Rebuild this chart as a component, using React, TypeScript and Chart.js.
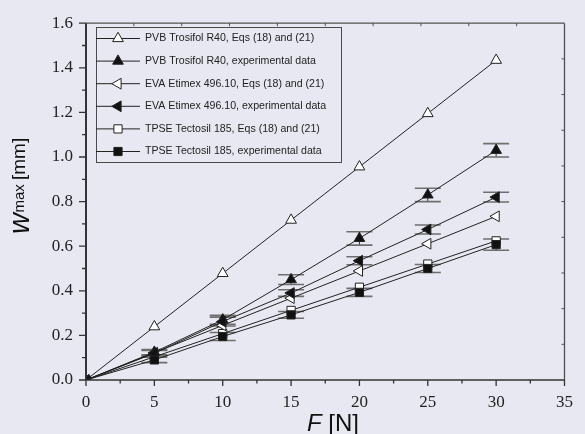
import React, { useEffect, useRef } from 'react';
import { Chart, registerables } from 'chart.js';

Chart.register(...registerables);

// ---- data ----
const forces = [0, 5, 10, 15, 20, 25, 30];
const pvbModel = [0, 0.239, 0.478, 0.717, 0.956, 1.195, 1.434];
const pvbExp = [0, 0.125, 0.27, 0.45, 0.635, 0.83, 1.03];
const pvbErr = [0, 0.012, 0.02, 0.022, 0.03, 0.03, 0.03];
const evaModel = [0, 0.122, 0.245, 0.367, 0.489, 0.611, 0.734];
const evaExp = [0, 0.12, 0.262, 0.39, 0.535, 0.675, 0.82];
const evaErr = [0, 0.012, 0.02, 0.015, 0.018, 0.02, 0.022];
const tpseModel = [0, 0.104, 0.208, 0.312, 0.416, 0.52, 0.624];
const tpseExp = [0, 0.09, 0.195, 0.292, 0.393, 0.5, 0.607];
const tpseErr = [0, 0.012, 0.018, 0.015, 0.018, 0.018, 0.025];

const seriesLabels = [
  'PVB Trosifol R40, Eqs (18) and (21)',
  'PVB Trosifol R40, experimental data',
  'EVA Etimex 496.10, Eqs (18) and (21)',
  'EVA Etimex 496.10, experimental data',
  'TPSE Tectosil 185, Eqs (18) and (21)',
  'TPSE Tectosil 185, experimental data',
];

const xMin = 0;
const xMax = 35;
const xStep = 5;
const yMin = 0;
const yMax = 1.6;
const yStep = 0.2;

const BG = '#e8e8f2';
const INK = '#222222';
const SANS = '"Liberation Sans", Arial, Helvetica, sans-serif';
const SERIF = '"Liberation Serif", "Times New Roman", Times, serif';

const toPoints = (ys: number[]) => forces.map((x, i) => ({ x, y: ys[i] }));

type Marker = { style: 'triangle' | 'rect'; rot: number; fill: string; radius: number };

const markers: Marker[] = [
  { style: 'triangle', rot: 0, fill: '#ffffff', radius: 6.2 },
  { style: 'triangle', rot: 0, fill: '#111111', radius: 6.2 },
  { style: 'triangle', rot: -90, fill: '#ffffff', radius: 6.2 },
  { style: 'triangle', rot: -90, fill: '#111111', radius: 6.2 },
  { style: 'rect', rot: 0, fill: '#ffffff', radius: 5.8 },
  { style: 'rect', rot: 0, fill: '#111111', radius: 5.8 },
];

const seriesValues = [pvbModel, pvbExp, evaModel, evaExp, tpseModel, tpseExp];
const seriesErrors: (number[] | null)[] = [null, pvbErr, null, evaErr, null, tpseErr];
const seriesOrder = [3, 2, 3, 1, 3, 0];

function drawMarker(ctx: CanvasRenderingContext2D, m: Marker, x: number, y: number) {
  ctx.save();
  ctx.beginPath();
  if (m.style === 'triangle') {
    let rad = (m.rot * Math.PI) / 180;
    const r = m.radius;
    ctx.moveTo(x + Math.sin(rad) * r, y - Math.cos(rad) * r);
    rad += (2 * Math.PI) / 3;
    ctx.lineTo(x + Math.sin(rad) * r, y - Math.cos(rad) * r);
    rad += (2 * Math.PI) / 3;
    ctx.lineTo(x + Math.sin(rad) * r, y - Math.cos(rad) * r);
    ctx.closePath();
  } else {
    const s = m.radius / Math.SQRT2;
    ctx.rect(x - s, y - s, 2 * s, 2 * s);
  }
  ctx.fillStyle = m.fill;
  ctx.fill();
  ctx.lineWidth = 1;
  ctx.strokeStyle = INK;
  ctx.stroke();
  ctx.restore();
}

const bgPlugin = {
  id: 'bg',
  beforeDraw(chart: any) {
    const ctx = chart.ctx;
    ctx.save();
    ctx.fillStyle = BG;
    ctx.fillRect(0, 0, chart.width, chart.height);
    ctx.restore();
  },
};

const errorBarPlugin = {
  id: 'errbars',
  beforeDatasetsDraw(chart: any) {
    const ctx = chart.ctx;
    const ys = chart.scales.y;
    chart.data.datasets.forEach((ds: any, i: number) => {
      const errs: number[] | undefined = ds.errors;
      if (!errs) return;
      const meta = chart.getDatasetMeta(i);
      meta.data.forEach((pt: any, j: number) => {
        const e = errs[j];
        if (!e) return;
        const v = ds.data[j].y;
        const top = ys.getPixelForValue(v + e);
        const bot = ys.getPixelForValue(v - e);
        const x = pt.x;
        ctx.save();
        ctx.strokeStyle = '#333';
        ctx.lineWidth = 1;
        ctx.beginPath();
        ctx.moveTo(x, top);
        ctx.lineTo(x, bot);
        ctx.stroke();
        ctx.strokeStyle = '#6e6e6e';
        ctx.lineWidth = 1.6;
        ctx.beginPath();
        ctx.moveTo(x - 13, top);
        ctx.lineTo(x + 13, top);
        ctx.moveTo(x - 13, bot);
        ctx.lineTo(x + 13, bot);
        ctx.stroke();
        ctx.restore();
      });
    });
  },
};

const framePlugin = {
  id: 'frame',
  afterDatasetsDraw(chart: any) {
    const ctx = chart.ctx;
    const { left, right, top, bottom } = chart.chartArea;
    const xs = chart.scales.x;
    const ys = chart.scales.y;
    ctx.save();
    // top and right
    ctx.strokeStyle = '#505050';
    ctx.lineWidth = 1.3;
    ctx.beginPath();
    ctx.moveTo(left, top);
    ctx.lineTo(right, top);
    ctx.moveTo(right, top);
    ctx.lineTo(right, bottom);
    ctx.stroke();
    // top / right inward ticks (10 divisions)
    ctx.lineWidth = 1;
    ctx.beginPath();
    for (let k = 1; k < 10; k++) {
      const px = left + ((right - left) * k) / 10;
      ctx.moveTo(px, top);
      ctx.lineTo(px, top + 3);
      const py = top + ((bottom - top) * k) / 10;
      ctx.moveTo(right, py);
      ctx.lineTo(right - 3, py);
    }
    ctx.stroke();
    // bottom and left axes
    ctx.strokeStyle = '#333';
    ctx.lineWidth = 1.6;
    ctx.beginPath();
    ctx.moveTo(left, bottom);
    ctx.lineTo(right, bottom);
    ctx.stroke();
    ctx.lineWidth = 2;
    ctx.beginPath();
    ctx.moveTo(left, top);
    ctx.lineTo(left, bottom);
    ctx.stroke();
    // bottom ticks
    ctx.lineWidth = 1.3;
    ctx.beginPath();
    for (let v = xMin; v <= xMax + 1e-9; v += xStep / 2) {
      const px = xs.getPixelForValue(v);
      const major = Math.abs(v / xStep - Math.round(v / xStep)) < 1e-6;
      ctx.moveTo(px, bottom);
      ctx.lineTo(px, bottom + (major ? 6 : 3.5));
    }
    for (let v = yMin; v <= yMax + 1e-9; v += yStep / 2) {
      const py = ys.getPixelForValue(v);
      const major = Math.abs(v / yStep - Math.round(v / yStep)) < 1e-6;
      ctx.moveTo(left, py);
      ctx.lineTo(left - (major ? 7 : 4), py);
    }
    ctx.stroke();
    ctx.restore();
  },
};

const titlePlugin = {
  id: 'titles',
  afterDraw(chart: any) {
    const ctx = chart.ctx;
    ctx.save();
    ctx.fillStyle = '#111';
    ctx.textBaseline = 'alphabetic';
    ctx.textAlign = 'left';
    // y title: w_max [mm]
    ctx.translate(29, 234);
    ctx.rotate(-Math.PI / 2);
    ctx.font = `italic 29px ${SANS}`;
    ctx.fillText('w', 0, 0);
    let cx = ctx.measureText('w').width + 0.5;
    ctx.font = `15px ${SANS}`;
    ctx.fillText('max', cx, -5);
    cx += ctx.measureText('max ').width;
    ctx.font = `19px ${SANS}`;
    ctx.fillText('[mm]', cx, -4);
    ctx.restore();

    ctx.save();
    ctx.fillStyle = '#111';
    ctx.textBaseline = 'alphabetic';
    ctx.textAlign = 'left';
    ctx.font = `italic 24px ${SANS}`;
    ctx.fillText('F', 307, 431);
    const fw = ctx.measureText('F ').width;
    ctx.font = `24px ${SANS}`;
    ctx.fillText('[N]', 307 + fw, 431);
    ctx.restore();
  },
};

const legendPlugin = {
  id: 'boxlegend',
  afterDraw(chart: any) {
    const ctx = chart.ctx;
    const bx = 96;
    const by = 27;
    const bw = 245;
    const bh = 135;
    ctx.save();
    ctx.strokeStyle = '#4a4a4a';
    ctx.lineWidth = 1;
    ctx.strokeRect(bx + 0.5, by + 0.5, bw, bh);
    ctx.font = `10.6px ${SANS}`;
    ctx.textBaseline = 'middle';
    ctx.fillStyle = INK;
    chart.data.datasets.forEach((ds: any, i: number) => {
      const y = by + 11.5 + i * 22.6;
      ctx.strokeStyle = INK;
      ctx.lineWidth = 1;
      ctx.beginPath();
      ctx.moveTo(bx, y);
      ctx.lineTo(bx + 44, y);
      ctx.stroke();
      drawMarker(ctx, markers[i], bx + 22, y);
      ctx.fillStyle = INK;
      ctx.fillText(ds.label, bx + 49, y);
    });
    ctx.restore();
  },
};

export default function App() {
  const ref = useRef<HTMLCanvasElement | null>(null);

  useEffect(() => {
    document.body.style.margin = '0';
    document.body.style.background = BG;
    const canvas = ref.current;
    if (!canvas) return;

    const datasets = seriesLabels.map((label, i) => ({
      label,
      data: toPoints(seriesValues[i]),
      errors: seriesErrors[i] || undefined,
      order: seriesOrder[i],
      showLine: true,
      borderColor: INK,
      borderWidth: 1,
      pointStyle: markers[i].style,
      pointRotation: markers[i].rot,
      pointRadius: markers[i].radius,
      pointBackgroundColor: markers[i].fill,
      pointBorderColor: INK,
      pointBorderWidth: 1,
      pointHoverRadius: markers[i].radius,
    }));

    const chart = new Chart(canvas, {
      type: 'scatter',
      data: { datasets } as any,
      options: {
        animation: false,
        responsive: true,
        maintainAspectRatio: false,
        layout: { padding: { left: 0, right: 10, top: 16, bottom: 0 } },
        plugins: {
          legend: { display: false },
          tooltip: { enabled: false },
        },
        scales: {
          x: {
            type: 'linear',
            min: xMin,
            max: xMax,
            grid: { display: false, drawTicks: false },
            border: { display: false },
            ticks: {
              stepSize: xStep,
              padding: 12,
              color: INK,
              font: { family: SERIF, size: 17 },
              maxRotation: 0,
            },
            afterFit: (s: any) => {
              s.height = 54;
            },
          },
          y: {
            type: 'linear',
            min: yMin,
            max: yMax,
            grid: { display: false, drawTicks: false },
            border: { display: false },
            ticks: {
              stepSize: yStep,
              padding: 13,
              color: INK,
              font: { family: SERIF, size: 17 },
              callback: (v: any) => Number(v).toFixed(1),
            },
            afterFit: (s: any) => {
              s.width = 86;
            },
          },
        },
      } as any,
      plugins: [bgPlugin, errorBarPlugin, framePlugin, titlePlugin, legendPlugin],
    });

    return () => chart.destroy();
  }, []);

  return (
    <div style={{ width: 585, height: 434, position: 'relative' }}>
      <canvas ref={ref} />
    </div>
  );
}
